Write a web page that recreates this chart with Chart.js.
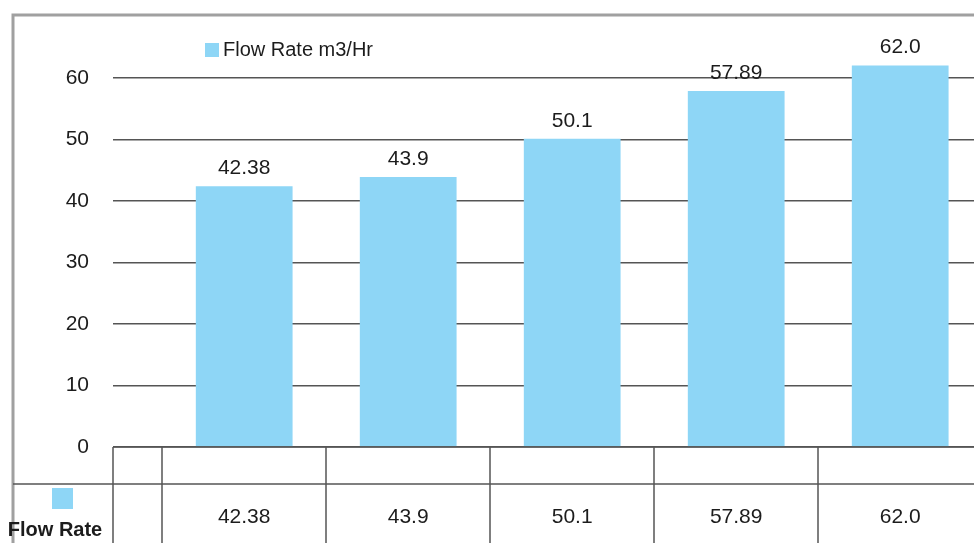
<!DOCTYPE html>
<html>
<head>
<meta charset="utf-8">
<script src="https://cdn.jsdelivr.net/npm/chart.js@4.4.1/dist/chart.umd.min.js"></script>
<style>
  html, body { margin: 0; padding: 0; background: #fff; overflow: hidden; }
  #wrap { width: 974px; height: 543px; position: relative; }
</style>
</head>
<body>
<div id="wrap"><canvas id="myChart"></canvas></div>
<script>
// data
const categories = ["", "", "", "", ""];
const flowRate = [42.38, 43.9, 50.1, 57.89, 62.0];
const flowLabels = ["42.38", "43.9", "50.1", "57.89", "62.0"];
const yTicks = [0, 10, 20, 30, 40, 50, 60];
const seriesName = "Flow Rate m3/Hr";
const tableName = "Flow Rate";

const barColor = "#8ed6f6";
const lineColor = "#555";
const textColor = "#1c1c1c";
const font = "'Liberation Sans', Arial, sans-serif";

// border, legend, data table and value labels
const extras = {
  id: "extras",
  beforeDraw(chart) {
    const ctx = chart.ctx;
    ctx.save();
    ctx.fillStyle = "#fff";
    ctx.fillRect(0, 0, chart.width, chart.height);
    // outer chart border (cropped right/bottom)
    ctx.strokeStyle = "#a0a0a0";
    ctx.lineWidth = 3;
    ctx.beginPath();
    ctx.moveTo(13, chart.height);
    ctx.lineTo(13, 15);
    ctx.lineTo(chart.width, 15);
    ctx.stroke();
    ctx.restore();
  },
  afterDatasetsDraw(chart) {
    const ctx = chart.ctx;
    const xs = chart.scales.x;
    const area = chart.chartArea;
    const meta = chart.getDatasetMeta(0);
    ctx.save();

    // value labels above bars
    ctx.fillStyle = textColor;
    ctx.font = "21px " + font;
    ctx.textAlign = "center";
    ctx.textBaseline = "middle";
    meta.data.forEach((bar, i) => {
      ctx.fillText(flowLabels[i], bar.x, bar.y - 18);
    });

    // legend
    ctx.fillStyle = barColor;
    ctx.fillRect(205, 43, 14, 14);
    ctx.fillStyle = textColor;
    ctx.font = "20px " + font;
    ctx.textAlign = "left";
    ctx.fillText(seriesName, 223, 50);

    // data table
    const rowTop = area.bottom;
    const rowMid = 484;
    ctx.strokeStyle = lineColor;
    ctx.lineWidth = 1.5;
    ctx.beginPath();
    ctx.moveTo(area.left, rowTop);
    ctx.lineTo(area.right, rowTop);
    ctx.moveTo(13, rowMid);
    ctx.lineTo(area.right, rowMid);
    ctx.moveTo(area.left, rowTop);
    ctx.lineTo(area.left, chart.height);
    for (let i = 0; i <= categories.length; i++) {
      const px = Math.round(xs.getPixelForValue(i + 0.5));
      ctx.moveTo(px, rowTop);
      ctx.lineTo(px, chart.height);
    }
    ctx.stroke();

    ctx.fillStyle = textColor;
    ctx.font = "21px " + font;
    ctx.textAlign = "center";
    flowLabels.forEach((t, i) => {
      ctx.fillText(t, xs.getPixelForValue(i + 1), 517);
    });

    // table legend key
    ctx.fillStyle = barColor;
    ctx.fillRect(52, 488, 21, 21);
    ctx.fillStyle = textColor;
    ctx.font = "bold 20px " + font;
    ctx.fillText(tableName, 55, 530);
    ctx.restore();
  }
};

const ctx = document.getElementById("myChart").getContext("2d");
new Chart(ctx, {
  type: "bar",
  data: {
    datasets: [{
      label: seriesName,
      data: flowRate.map((v, i) => ({ x: i + 1, y: v })),
      backgroundColor: barColor,
      borderWidth: 0,
      barPercentage: 0.59,
      categoryPercentage: 1
    }]
  },
  options: {
    responsive: true,
    maintainAspectRatio: false,
    animation: false,
    layout: {
      padding: { left: 0, right: 0, top: 41, bottom: 96 }
    },
    plugins: {
      legend: { display: false },
      tooltip: { enabled: false }
    },
    scales: {
      x: {
        type: "linear",
        min: 0.2,
        max: 5.45,
        offset: false,
        display: false,
        afterBuildTicks: s => { s.ticks = categories.map((c, i) => ({ value: i + 1 })); }
      },
      y: {
        min: 0,
        max: 66,
        afterBuildTicks: s => { s.ticks = yTicks.map(v => ({ value: v })); },
        afterFit: s => { s.width = 113; },
        border: { display: false },
        grid: {
          color: lineColor,
          lineWidth: 1.5,
          drawTicks: false
        },
        ticks: {
          padding: 24,
          color: textColor,
          font: { family: font, size: 21 }
        }
      }
    }
  },
  plugins: [extras]
});
</script>
</body>
</html>
